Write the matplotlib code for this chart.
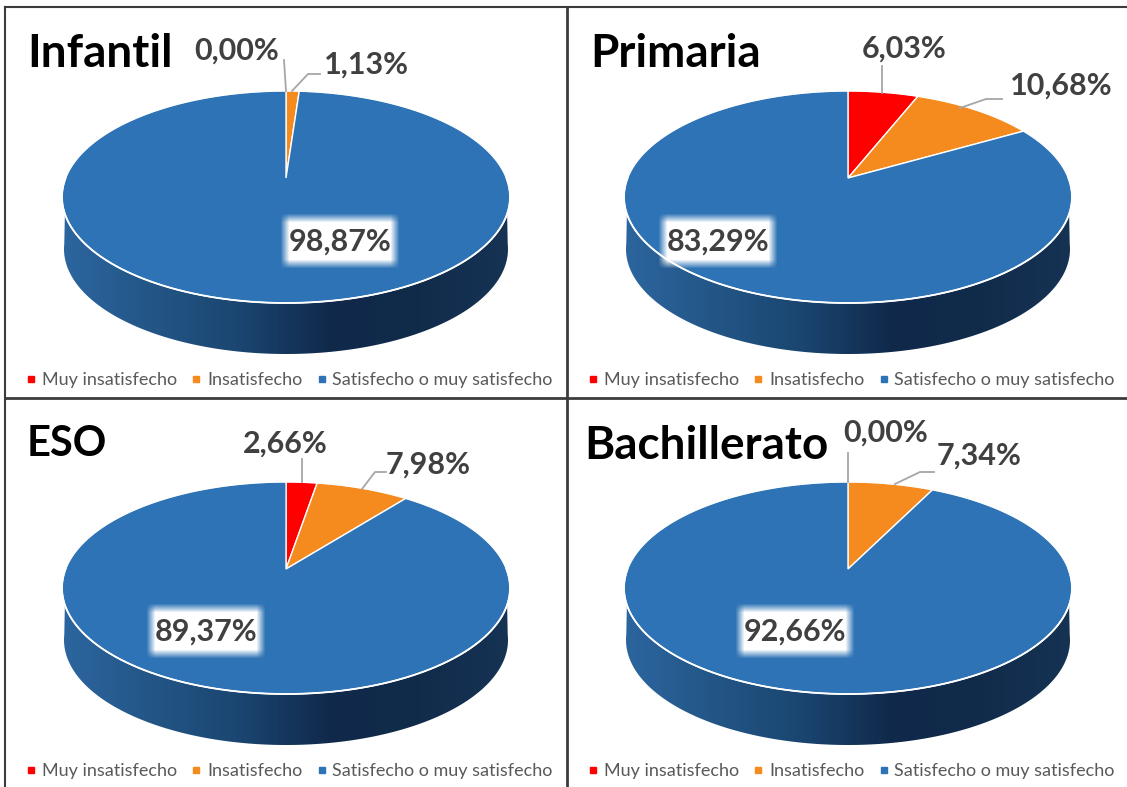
import numpy as np
import matplotlib
matplotlib.use("Agg")
import matplotlib.pyplot as plt
from matplotlib.colors import LinearSegmentedColormap
from matplotlib.patches import Polygon

titles = ["Infantil", "Primaria", "ESO", "Bachillerato"]
categories = ["Muy insatisfecho", "Insatisfecho", "Satisfecho o muy satisfecho"]
muy_insatisfecho = [0.00, 6.03, 2.66, 0.00]
insatisfecho = [1.13, 10.68, 7.98, 7.34]
satisfecho = [98.87, 83.29, 89.37, 92.66]
colors = ["#ff0000", "#f58a1f", "#2e73b5"]

FONT = "Lato"
W, H = 1127, 787
fig = plt.figure(figsize=(W / 100, H / 100), dpi=100, facecolor="white")
ax = fig.add_axes([0, 0, 1, 1])
ax.set_axis_off()

offsets = [(0, 0), (562, 0), (0, 391), (562, 391)]
title_pos = [(27, 54), (28, 54), (27, 53), (22, 55)]
title_size = [33, 33, 30, 33]
label_pos = [
    [(237, 51), (366, 65), (340, 242)],
    [(342, 49), (499, 86), (156, 242)],
    [(285, 53), (428, 74), (206, 241)],
    [(324, 42), (417, 65), (233, 241)],
]
leaders = [
    [[(286, 91), (284, 60)], [(292, 91), (308, 74), (320, 74)]],
    [[(320, 93), (320, 66)], [(398, 108), (424, 99), (440, 99)]],
    [[(302, 91), (302, 68)], [(362, 98), (375, 81), (386, 81)]],
    [[(286, 91), (286, 62)], [(333, 93), (358, 81), (372, 81)]],
]
legend_x = [(31, 42), (196, 207), (322, 332)]

CX, CY = 286, 178      # apex of the pie in the panel
K = 38 / 212           # perspective strength
A = 87 * (1 + K)
B = 224 * np.sqrt(1 - K ** 2)


def project(theta):
    """theta clockwise from the top, radians; returns pixel coords."""
    x, y = np.sin(theta), np.cos(theta)
    w = 1 + K * y
    return CX + B * x / w, CY - A * y / w


wall_cmap = LinearSegmentedColormap.from_list(
    "wall", ["#2c659f", "#235686", "#1a4570", "#10294a", "#112b4b", "#163353"])


def soft_box(x0, x1, y0, y1, feather=9):
    nx, ny = int(x1 - x0), int(y1 - y0)
    xx = np.clip(np.minimum(np.arange(nx), nx - 1 - np.arange(nx)) / feather, 0, 1)
    yy = np.clip(np.minimum(np.arange(ny), ny - 1 - np.arange(ny)) / feather, 0, 1)
    rgba = np.ones((ny, nx, 4))
    rgba[..., 3] = np.outer(yy, xx)
    ax.imshow(rgba, extent=(x0, x1, y1, y0), aspect="auto", zorder=4, interpolation="bilinear")


for i, (dx, dy) in enumerate(offsets):
    vals = [muy_insatisfecho[i], insatisfecho[i], satisfecho[i]]

    # side wall
    t = np.linspace(-np.pi / 2 - 0.05, np.pi / 2 + 0.05, 200)
    lx = CX + dx + 222 * np.sin(t)
    ly = 249 + dy + 105 * np.cos(t)
    ux, uy = project(np.linspace(np.pi / 2, 3 * np.pi / 2, 200))
    poly = np.vstack([np.c_[ux + dx, uy + dy], np.c_[lx, ly]])
    clip = Polygon(poly, closed=True, transform=ax.transData, fc="none", ec="none")
    ax.add_patch(clip)
    grad = np.linspace(0, 1, 256)[None, :]
    im = ax.imshow(grad, cmap=wall_cmap, extent=(62 + dx, 510 + dx, 360 + dy, 190 + dy),
                   aspect="auto", zorder=1)
    im.set_clip_path(clip)

    # top surface
    th = np.linspace(0, 2 * np.pi, 720)
    ex, ey = project(th)
    ax.fill(ex + dx, ey + dy, color=colors[2], zorder=2, lw=0)
    start = 0.0
    for v, c in zip(vals, colors):
        if v > 0:
            a = np.linspace(start, start + v / 100 * 2 * np.pi, 300)
            px, py = project(a)
            xs = np.r_[CX, px, CX] + dx
            ys = np.r_[CY, py, CY] + dy
            ax.fill(xs, ys, facecolor=c, edgecolor="white", lw=1.0, zorder=3, joinstyle="miter")
        start += v / 100 * 2 * np.pi
    ax.plot(ex + dx, ey + dy, color="white", lw=0.8, alpha=0.55, zorder=3.2)
    fx, fy = project(np.linspace(np.pi / 2, 3 * np.pi / 2, 200))
    ax.plot(fx + dx, fy + dy, color="white", lw=1.3, zorder=3.3)

    # leader lines
    for seg in leaders[i]:
        s = np.array(seg)
        ax.plot(s[:, 0] + dx, s[:, 1] + dy, color="#a6a6a6", lw=1.3, zorder=3.5)

    # data labels
    for v, (lx_, ly_), inside in zip(vals, label_pos[i], (False, False, True)):
        x, y = lx_ + dx, ly_ + dy
        if inside:
            soft_box(x - 60, x + 60, y - 29, y + 27)
        ax.text(x, y, f"{v:.2f}%".replace(".", ","), family=FONT, weight="bold", fontsize=22,
                color="#404040", ha="center", va="center", zorder=5)

    # title
    tx, ty = title_pos[i]
    ax.text(tx + dx, ty + dy, titles[i], family=FONT, weight="bold", fontsize=title_size[i],
            color="black", ha="left", va="center", zorder=5)

    # legend
    for (mx, lx2), c, name in zip(legend_x, colors, categories):
        ax.plot([mx + dx], [379 + dy], marker="s", ms=4.5, color=c, ls="none", zorder=5)
        ax.text(lx2 + dx, 380 + dy, name, family=FONT, fontsize=13, color="#595959",
                ha="left", va="center", zorder=5)

# panel frames
frame = "#3c3c3c"
ax.plot([5, W], [7, 7], color=frame, lw=1.5, zorder=6)
ax.plot([5, 5], [7, H], color=frame, lw=1.5, zorder=6)
ax.plot([567, 567], [7, H], color=frame, lw=2, zorder=6)
ax.plot([5, W], [398, 398], color=frame, lw=2, zorder=6)

ax.set_xlim(0, W)
ax.set_ylim(H, 0)
fig.savefig("out.png", dpi=100, facecolor="white")
